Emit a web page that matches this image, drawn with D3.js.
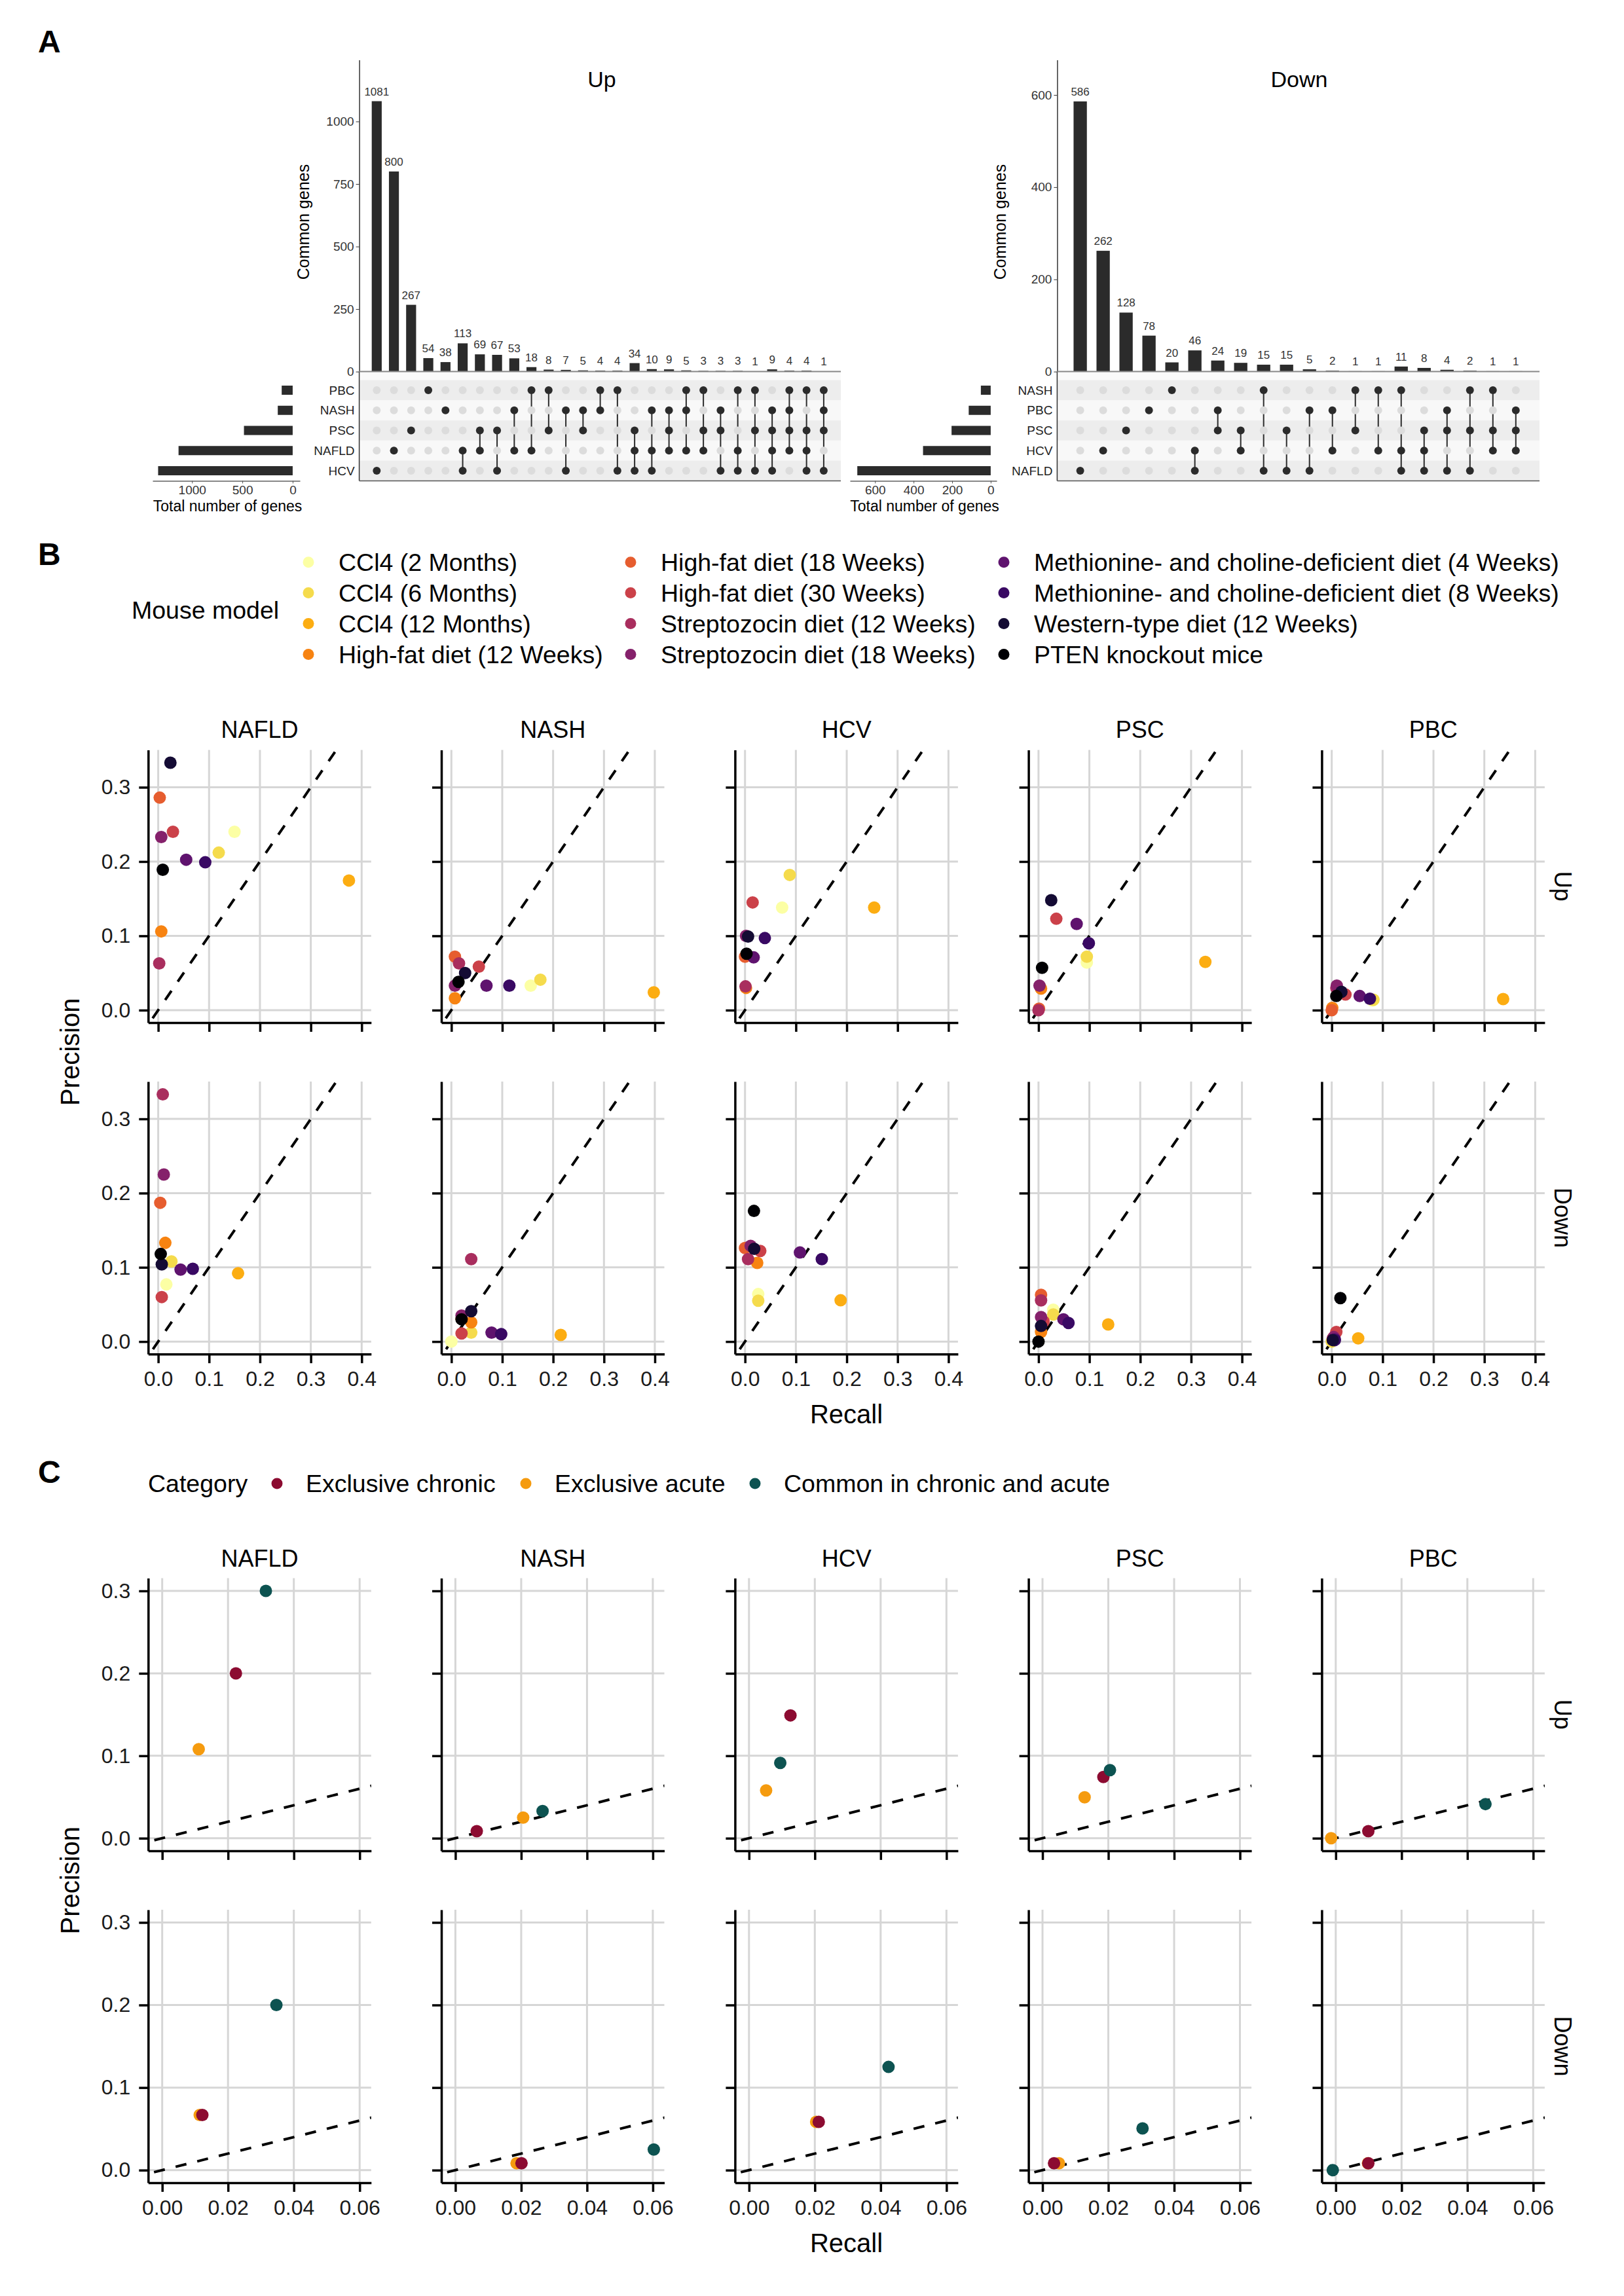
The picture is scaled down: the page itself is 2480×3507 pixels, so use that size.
<!DOCTYPE html>
<html><head><meta charset="utf-8">
<script src="https://cdn.jsdelivr.net/npm/d3@7"></script>
<style>
body{margin:0;background:#fff;}
svg{display:block;}
</style></head><body>
<svg id="fig" width="2480" height="3507"></svg>
<script>
// ================= DATA =================
// Panel A : UpSet "Up"
const upSets = ["PBC", "NASH", "PSC", "NAFLD", "HCV"];
const upSetTotals = [109, 148, 484, 1134, 1337];
const upCounts = [1081, 800, 267, 54, 38, 113, 69, 67, 53, 18, 8, 7, 5, 4, 4, 34, 10, 9, 5, 3, 3, 3, 1, 9, 4, 4, 1];
const upMembers = [["HCV"], ["NAFLD"], ["PSC"], ["PBC"], ["NASH"], ["NAFLD", "HCV"], ["PSC", "NAFLD"], ["PSC", "HCV"],
  ["NASH", "NAFLD"], ["PBC", "NAFLD"], ["PBC", "PSC"], ["NASH", "HCV"], ["NASH", "PSC"], ["PBC", "NASH"], ["PBC", "HCV"],
  ["PSC", "NAFLD", "HCV"], ["NASH", "NAFLD", "HCV"], ["NASH", "PSC", "NAFLD"], ["PBC", "NASH", "NAFLD"], ["PBC", "PSC", "NAFLD"],
  ["NASH", "PSC", "HCV"], ["PBC", "NAFLD", "HCV"], ["PBC", "PSC", "HCV"], ["NASH", "PSC", "NAFLD", "HCV"],
  ["PBC", "NASH", "PSC", "NAFLD"], ["PBC", "PSC", "NAFLD", "HCV"], ["PBC", "NASH", "PSC", "HCV"]];
const upYTicks = [0, 250, 500, 750, 1000];
const upLeftTicks = [1000, 500, 0];

// Panel A : UpSet "Down"
const downSets = ["NASH", "PBC", "PSC", "HCV", "NAFLD"];
const downSetTotals = [51, 114, 203, 351, 692];
const downCounts = [586, 262, 128, 78, 20, 46, 24, 19, 15, 15, 5, 2, 1, 1, 11, 8, 4, 2, 1, 1];
const downMembers = [["NAFLD"], ["HCV"], ["PSC"], ["PBC"], ["NASH"], ["HCV", "NAFLD"], ["PBC", "PSC"], ["PSC", "HCV"],
  ["NASH", "NAFLD"], ["PSC", "NAFLD"], ["PBC", "NAFLD"], ["PBC", "HCV"], ["NASH", "PSC"], ["NASH", "HCV"],
  ["NASH", "HCV", "NAFLD"], ["PSC", "HCV", "NAFLD"], ["PBC", "PSC", "NAFLD"], ["NASH", "PSC", "NAFLD"],
  ["NASH", "PSC", "HCV"], ["PBC", "PSC", "HCV"]];
const downYTicks = [0, 200, 400, 600];
const downLeftTicks = [600, 400, 200, 0];

// Panels B and C : facets
const diseases = ["NAFLD", "NASH", "HCV", "PSC", "PBC"];
const directions = ["Up", "Down"];

// Panel B : mouse models (order of legend)
const mouseModels = ["CCl4 (2 Months)", "CCl4 (6 Months)", "CCl4 (12 Months)", "High-fat diet (12 Weeks)",
  "High-fat diet (18 Weeks)", "High-fat diet (30 Weeks)", "Streptozocin diet (12 Weeks)", "Streptozocin diet (18 Weeks)",
  "Methionine- and choline-deficient diet (4 Weeks)", "Methionine- and choline-deficient diet (8 Weeks)",
  "Western-type diet (12 Weeks)", "PTEN knockout mice"];
const mouseColors = ["#FCFFA4", "#F5DB4C", "#FCAD12", "#F78311", "#E65D2F", "#CB4149", "#A92E5E", "#85216B",
  "#5F136E", "#390963", "#140B34", "#000004"];
// rows: NAFLD, NASH, HCV, PSC, PBC ; columns: mouse models
const bRecallUp = [
  [0.150, 0.119, 0.375, 0.006, 0.003, 0.029, 0.002, 0.006, 0.055, 0.0925, 0.024, 0.009],
  [0.156, 0.175, 0.398, 0.007, 0.007, 0.054, 0.015, 0.007, 0.069, 0.114, 0.027, 0.014],
  [0.073, 0.088, 0.254, 0.002, 0.000, 0.015, 0.001, 0.002, 0.017, 0.039, 0.006, 0.003],
  [0.095, 0.095, 0.328, 0.005, 0.001, 0.035, 0.000, 0.002, 0.075, 0.099, 0.025, 0.007],
  [0.080, 0.082, 0.337, 0.001, 0.000, 0.027, 0.009, 0.010, 0.055, 0.075, 0.019, 0.009]];
const bPrecisionUp = [
  [0.240, 0.212, 0.1745, 0.106, 0.286, 0.240, 0.063, 0.233, 0.2025, 0.199, 0.333, 0.189],
  [0.033, 0.041, 0.024, 0.016, 0.072, 0.0586, 0.063, 0.033, 0.033, 0.033, 0.050, 0.038],
  [0.138, 0.182, 0.138, 0.030, 0.072, 0.145, 0.032, 0.100, 0.071, 0.097, 0.099, 0.076],
  [0.064, 0.072, 0.065, 0.029, 0.002, 0.123, 0.000, 0.033, 0.116, 0.090, 0.148, 0.057],
  [0.013, 0.014, 0.015, 0.003, 0.000, 0.021, 0.030, 0.033, 0.019, 0.0154, 0.0246, 0.019]];
const bRecallDown = [
  [0.016, 0.026, 0.157, 0.014, 0.004, 0.007, 0.009, 0.011, 0.044, 0.068, 0.007, 0.005],
  [0.000, 0.039, 0.215, 0.039, 0.020, 0.020, 0.039, 0.020, 0.079, 0.098, 0.039, 0.020],
  [0.026, 0.026, 0.188, 0.024, 0.000, 0.030, 0.006, 0.011, 0.108, 0.151, 0.018, 0.0176],
  [0.029, 0.029, 0.137, 0.005, 0.005, 0.010, 0.005, 0.005, 0.049, 0.059, 0.005, 0.000],
  [0.002, 0.000, 0.052, 0.003, 0.003, 0.009, 0.002, 0.004, 0.006, 0.006, 0.002, 0.017]];
const bPrecisionDown = [
  [0.077, 0.108, 0.092, 0.133, 0.187, 0.060, 0.333, 0.225, 0.097, 0.098, 0.104, 0.118],
  [0.000, 0.012, 0.009, 0.026, 0.031, 0.011, 0.111, 0.035, 0.012, 0.010, 0.041, 0.030],
  [0.064, 0.055, 0.0556, 0.106, 0.126, 0.122, 0.111, 0.129, 0.120, 0.111, 0.125, 0.176],
  [0.043, 0.0366, 0.023, 0.013, 0.063, 0.027, 0.0555, 0.033, 0.030, 0.025, 0.021, 0.000],
  [0.003, 0.000, 0.0044, 0.003, 0.005, 0.013, 0.004, 0.006, 0.003, 0.002, 0.002, 0.0586]];
const bXTicks = [0, 0.1, 0.2, 0.3, 0.4];
const bYTicks = [0, 0.1, 0.2, 0.3];

// Panel C : categories
const categories = ["Exclusive chronic", "Exclusive acute", "Common in chronic and acute"];
const categoryColors = ["#8C0B31", "#F59B0F", "#0D5351"];
// rows: NAFLD, NASH, HCV, PSC, PBC ; columns: chronic, acute, common
const cRecallUp = [
  [0.0224, 0.0111, 0.0315], [0.0065, 0.0206, 0.0265], [0.0126, 0.0052, 0.0095], [0.0185, 0.0128, 0.0205], [0.0099, -0.0014, 0.0455]];
const cPrecisionUp = [
  [0.200, 0.108, 0.300], [0.0086, 0.025, 0.033], [0.149, 0.058, 0.0914], [0.0743, 0.0497, 0.0826], [0.0086, 0.000, 0.0414]];
const cRecallDown = [
  [0.0122, 0.0114, 0.0347], [0.0201, 0.0186, 0.0603], [0.0212, 0.0204, 0.0424], [0.0035, 0.0050, 0.0304], [0.0099, 0.0098, -0.0009]];
const cPrecisionDown = [
  [0.0668, 0.0668, 0.200], [0.0083, 0.0083, 0.0249], [0.0585, 0.0585, 0.125], [0.0083, 0.0083, 0.0505], [0.0083, 0.0083, 0.000]];
const cXTicks = [0, 0.02, 0.04, 0.06];
const cYTicks = [0, 0.1, 0.2, 0.3];

// ================= DRAWING =================
const FONT = '"Liberation Sans", Arial, Helvetica, sans-serif';
const svg = d3.select("#fig").attr("font-family", FONT);
svg.append("rect").attr("width", 2480).attr("height", 3507).attr("fill", "#fff");

function label(txt, x, y, size, opts = {}) {
  const t = svg.append("text").attr("x", x).attr("y", y).attr("font-size", size)
    .attr("fill", opts.fill || "#000").attr("text-anchor", opts.anchor || "start")
    .attr("dominant-baseline", opts.baseline || "central").text(txt);
  if (opts.weight) t.attr("font-weight", opts.weight);
  if (opts.rotate !== undefined) t.attr("transform", `rotate(${opts.rotate},${x},${y})`);
  return t;
}

// Panel letters
label("A", 58, 80, 48, {weight: "bold", baseline: "auto"});
label("B", 58, 863, 48, {weight: "bold", baseline: "auto"});
label("C", 58, 2265, 48, {weight: "bold", baseline: "auto"});

// ---------- UpSet ----------
function drawUpset(o) {
  const g = svg.append("g");
  const x = d3.scalePoint().domain(d3.range(o.counts.length)).range([o.colFirst, o.colLast]);
  const step = x.step();
  const bw = step * 0.58;
  const y = d3.scaleLinear().domain([0, o.yMax]).range([o.base, o.top]);
  const rowY = d3.scalePoint().domain(o.sets).range([596, 719]);
  const rs = rowY.step();
  const mBot = rowY(o.sets[o.sets.length - 1]) + rs / 2;

  // matrix background bands
  g.append("rect").attr("x", o.axisX).attr("y", o.base).attr("width", o.right - o.axisX)
    .attr("height", mBot - o.base).attr("fill", "#fafafa");
  o.sets.forEach((s, i) => {
    g.append("rect").attr("x", o.axisX).attr("y", rowY(s) - rs / 2).attr("width", o.right - o.axisX)
      .attr("height", rs).attr("fill", i % 2 === 0 ? "#ededed" : "#f8f8f8");
  });

  // bars
  g.selectAll(".bar").data(o.counts).join("rect")
    .attr("x", (d, i) => x(i) - bw / 2).attr("y", d => y(d))
    .attr("width", bw).attr("height", d => o.base - y(d)).attr("fill", "#2b2b2b");
  g.selectAll(".blab").data(o.counts).join("text")
    .attr("x", (d, i) => x(i)).attr("y", d => y(d) - 9).attr("text-anchor", "middle")
    .attr("font-size", 17).attr("fill", "#333").text(d => d);

  // y axis
  const ax = g.append("g").attr("transform", `translate(${o.axisX},0)`)
    .call(d3.axisLeft(y).tickValues(o.yTicks).tickSize(5).tickSizeOuter(0).tickPadding(3).tickFormat(d3.format("d")));
  ax.attr("font-family", FONT).attr("font-size", 19);
  ax.selectAll("text").attr("fill", "#333");
  ax.selectAll("line").attr("stroke", "#333");
  ax.select(".domain").attr("stroke", "#333").attr("stroke-width", 1.5);
  g.append("line").attr("x1", o.axisX).attr("x2", o.axisX).attr("y1", o.base).attr("y2", mBot)
    .attr("stroke", "#333").attr("stroke-width", 1.5);
  g.append("line").attr("x1", o.axisX).attr("x2", o.right).attr("y1", o.base).attr("y2", o.base)
    .attr("stroke", "#888").attr("stroke-width", 2);
  g.append("line").attr("x1", o.axisX).attr("x2", o.right).attr("y1", mBot).attr("y2", mBot)
    .attr("stroke", "#555").attr("stroke-width", 1.5);

  // matrix dots and connectors
  o.members.forEach((m, i) => {
    const ys = m.map(s => rowY(s));
    if (ys.length > 1) {
      g.append("line").attr("x1", x(i)).attr("x2", x(i)).attr("y1", d3.min(ys)).attr("y2", d3.max(ys))
        .attr("stroke", "#2b2b2b").attr("stroke-width", 2);
    }
    o.sets.forEach(s => {
      g.append("circle").attr("cx", x(i)).attr("cy", rowY(s)).attr("r", 6)
        .attr("fill", m.includes(s) ? "#2b2b2b" : "#dcdcdc");
    });
  });

  // row labels
  o.sets.forEach(s => label(s, o.axisX - 7, rowY(s), 19, {anchor: "end", fill: "#222"}));

  // set-size bars
  const xs = d3.scaleLinear().domain(o.leftDomain).range([o.leftRight, o.leftLeft]);
  g.selectAll(".sbar").data(o.totals).join("rect")
    .attr("x", d => xs(d)).attr("y", (d, i) => rowY(o.sets[i]) - 7)
    .attr("width", d => xs(0) - xs(d)).attr("height", 14).attr("fill", "#2b2b2b");
  const lax = g.append("g").attr("transform", `translate(0,${mBot})`)
    .call(d3.axisBottom(xs).tickValues(o.leftTicks).tickSize(4).tickSizeOuter(0).tickPadding(3).tickFormat(d3.format("d")));
  lax.attr("font-family", FONT).attr("font-size", 19);
  lax.selectAll("text").attr("fill", "#333");
  lax.selectAll("line").attr("stroke", "#555");
  lax.select(".domain").attr("stroke", "#888").attr("stroke-width", 2);

  label("Total number of genes", (o.leftLeft + o.leftRight) / 2 + 2, 773, 23, {anchor: "middle"});
  label("Common genes", o.yTitleX, 339, 25, {anchor: "middle", rotate: -90});
  label(o.title, o.titleX, 121, 34, {anchor: "middle"});
}

drawUpset({
  sets: upSets, totals: upSetTotals, counts: upCounts, members: upMembers, yTicks: upYTicks, leftTicks: upLeftTicks,
  colFirst: 575.3, colLast: 1257.9, axisX: 548.6, right: 1284, base: 567.6, top: 91.5, yMax: 1246,
  leftDomain: [-72, 1392], leftRight: 458, leftLeft: 233, yTitleX: 463, title: "Up", titleX: 919
});
drawUpset({
  sets: downSets, totals: downSetTotals, counts: downCounts, members: downMembers, yTicks: downYTicks, leftTicks: downLeftTicks,
  colFirst: 1649.6, colLast: 2314.8, axisX: 1614.4, right: 2351, base: 567.6, top: 91.5, yMax: 676,
  leftDomain: [-31, 730], leftRight: 1522, leftLeft: 1298, yTitleX: 1527, title: "Down", titleX: 1984
});

// ---------- Facet grids ----------
const colLeft = [226.3, 674, 1122.4, 1570.6, 2018.4];
const panelW = 340.5;

function drawFacets(o) {
  o.rows.forEach((row, ri) => {
    diseases.forEach((dis, ci) => {
      const left = colLeft[ci], right = left + panelW;
      const x = d3.scaleLinear().domain(o.xDomain).range([left, right]);
      const y = d3.scaleLinear().domain(o.yDomain).range([row.bottom, row.top]);
      const g = svg.append("g");
      const clipId = `clip-${o.id}-${ri}-${ci}`;
      g.append("clipPath").attr("id", clipId).append("rect")
        .attr("x", left).attr("y", row.top).attr("width", panelW).attr("height", row.bottom - row.top);
      // grid
      g.selectAll(".vg").data(o.xTicks).join("line")
        .attr("x1", d => x(d)).attr("x2", d => x(d)).attr("y1", row.top).attr("y2", row.bottom)
        .attr("stroke", "#d6d6d6").attr("stroke-width", 3);
      g.selectAll(".hg").data(o.yTicks).join("line")
        .attr("x1", left).attr("x2", right).attr("y1", d => y(d)).attr("y2", d => y(d))
        .attr("stroke", "#d6d6d6").attr("stroke-width", 3);
      // identity line
      g.append("line").attr("clip-path", `url(#${clipId})`)
        .attr("x1", x(-1)).attr("y1", y(-1)).attr("x2", x(1)).attr("y2", y(1))
        .attr("stroke", "#000").attr("stroke-width", 4).attr("stroke-dasharray", "17,17");
      // points
      const rec = row.recall[ci], pre = row.precision[ci];
      o.order.forEach(k => {
        g.append("circle").attr("cx", x(rec[k])).attr("cy", y(pre[k])).attr("r", o.r)
          .attr("fill", o.colors[k]);
      });
      // axes
      const ay = g.append("g").attr("transform", `translate(${left},0)`)
        .call(d3.axisLeft(y).tickValues(o.yTicks).tickSize(14).tickSizeOuter(0).tickPadding(13)
          .tickFormat(ci === 0 ? d3.format(".1f") : () => ""));
      const axb = g.append("g").attr("transform", `translate(0,${row.bottom})`)
        .call(d3.axisBottom(x).tickValues(o.xTicks).tickSize(14).tickSizeOuter(0).tickPadding(12)
          .tickFormat(row.showX ? o.xFmt : () => ""));
      [ay, axb].forEach(a => {
        a.attr("font-family", FONT).attr("font-size", 32);
        a.selectAll("text").attr("fill", "#1a1a1a");
        a.selectAll("line").attr("stroke", "#000").attr("stroke-width", 3.5);
        a.select(".domain").attr("stroke", "#000").attr("stroke-width", 3.5);
      });
      // strip titles
      if (ri === 0) label(dis, (left + right) / 2, o.stripY, 36, {anchor: "middle"});
      if (ci === diseases.length - 1) label(row.label, 2386, (row.top + row.bottom) / 2, 36, {anchor: "middle", rotate: 90});
    });
  });
  label("Precision", 107, (o.rows[0].top + o.rows[1].bottom) / 2, 40, {anchor: "middle", rotate: -90});
  label("Recall", 1292.5, o.recallY, 40, {anchor: "middle"});
}

// ---------- Panel B ----------
label("Mouse model", 201, 931.7, 37.5);
const legX = [471, 963, 1533];
const legY = [858.7, 905.6, 952.6, 999.6];
mouseModels.forEach((m, i) => {
  const c = Math.floor(i / 4), r = i % 4;
  svg.append("circle").attr("cx", legX[c]).attr("cy", legY[r]).attr("r", 8.5).attr("fill", mouseColors[i]);
  label(m, legX[c] + 46, legY[r], 37.5);
});

drawFacets({
  id: "B", xDomain: [-0.0197, 0.4187], yDomain: [-0.0168, 0.3503], xTicks: bXTicks, yTicks: bYTicks,
  xFmt: d3.format(".1f"), colors: mouseColors, order: d3.range(12), r: 9.5, stripY: 1114, recallY: 2160,
  rows: [
    {label: directions[0], top: 1145.4, bottom: 1562, recall: bRecallUp, precision: bPrecisionUp, showX: false},
    {label: directions[1], top: 1652, bottom: 2068.2, recall: bRecallDown, precision: bPrecisionDown, showX: true}
  ]
});

// ---------- Panel C ----------
label("Category", 226, 2266, 37.5);
const cLegDot = [423, 803, 1153];
categories.forEach((c, i) => {
  svg.append("circle").attr("cx", cLegDot[i]).attr("cy", 2266).attr("r", 8.5).attr("fill", categoryColors[i]);
  label(c, cLegDot[i] + 44, 2266, 37.5);
});

drawFacets({
  id: "C", xDomain: [-0.00426, 0.0635], yDomain: [-0.0152, 0.3154], xTicks: cXTicks, yTicks: cYTicks,
  xFmt: d3.format(".2f"), colors: categoryColors, order: [1, 0, 2], r: 9.5, stripY: 2380, recallY: 3426,
  rows: [
    {label: directions[0], top: 2410.6, bottom: 2826.9, recall: cRecallUp, precision: cPrecisionUp, showX: false},
    {label: directions[1], top: 2917, bottom: 3333.9, recall: cRecallDown, precision: cPrecisionDown, showX: true}
  ]
});
</script>
</body></html>
